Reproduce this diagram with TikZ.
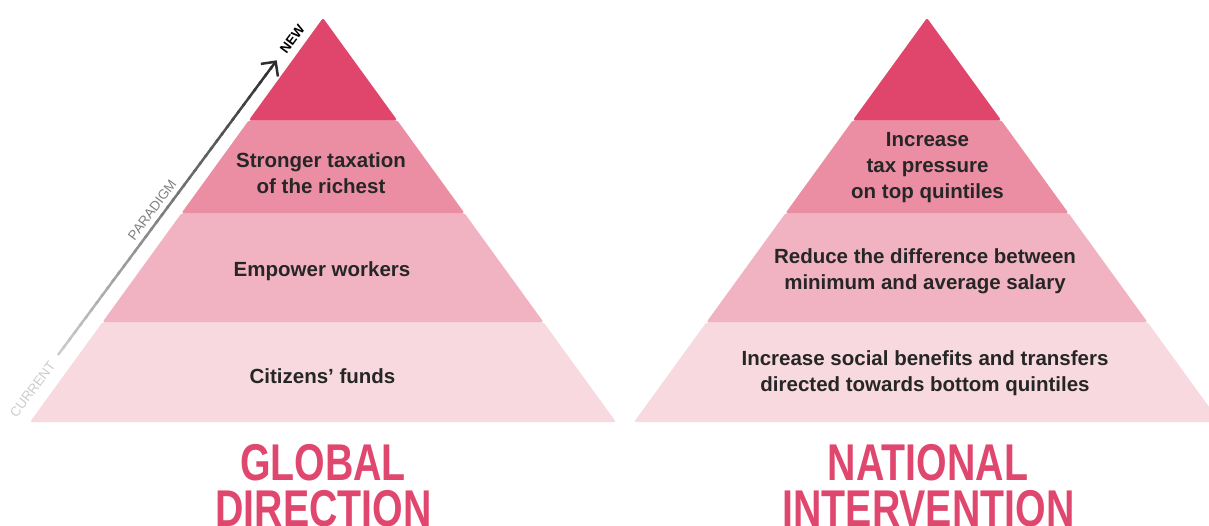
\documentclass[tikz,border=0pt]{standalone}
\usepackage{fontspec}
\setmainfont{Liberation Sans}
\usetikzlibrary{calc}
\definecolor{cTop}{HTML}{E0466C}
\definecolor{cTwo}{HTML}{EB8EA3}
\definecolor{cThree}{HTML}{F1B3C2}
\definecolor{cBot}{HTML}{F7D9DF}
\definecolor{cTitle}{HTML}{E0476E}
\definecolor{cText}{HTML}{262626}
\definecolor{arrLight}{HTML}{CCCCCC}
\definecolor{arrMid}{HTML}{808080}
\definecolor{arrDark}{HTML}{2E2E2E}
\begin{document}
\begin{tikzpicture}[x=1pt,y=-1pt,
  band/.style={rounded corners=2pt},
  lbl/.style={font=\fontsize{20.5}{26}\selectfont\bfseries, text=cText, inner sep=0pt, anchor=base},
  ttl/.style={font=\fontsize{51.7}{46}\selectfont\bfseries, text=cTitle, inner sep=0pt, anchor=base},
  small/.style={font=\fontsize{13.5}{15}\selectfont, inner sep=1pt}]
\useasboundingbox (0,0) rectangle (1209,525);
% pyramids
\foreach \ax in {323,927} {
  \fill[cBot, band] (\ax-220.4,322) -- (\ax+220.4,322) -- (\ax+293,422) -- (\ax-293,422) -- cycle;
  \fill[cThree, band] (\ax-141.4,213) -- (\ax+141.4,213) -- (\ax+220.4,322) -- (\ax-220.4,322) -- cycle;
  \fill[cTwo, band] (\ax-74,120) -- (\ax+74,120) -- (\ax+141.4,213) -- (\ax-141.4,213) -- cycle;
  \fill[cTop, band] (\ax,18) -- (\ax+74,120) -- (\ax-74,120) -- cycle;
}
% left labels
\node[lbl] (l1) at (321,167) {\begin{tabular}[t]{@{}c@{}}Stronger taxation\\of the richest\end{tabular}};
\node[lbl] (l2) at (322,276) {Empower workers};
\node[lbl] (l3) at (322.5,383) {Citizens’ funds};
% right labels
\node[lbl] (r1) at (927.5,146) {\begin{tabular}[t]{@{}c@{}}Increase\\tax pressure\\on top quintiles\end{tabular}};
\node[lbl] (r2) at (925,263) {\begin{tabular}[t]{@{}c@{}}Reduce the difference between\\minimum and average salary\end{tabular}};
\node[lbl] (r3) at (925,365) {\begin{tabular}[t]{@{}c@{}}Increase social benefits and transfers\\directed towards bottom quintiles\end{tabular}};
% titles
\node[ttl] (t1) at (323,480) {\scalebox{0.76}[1]{GLOBAL}};
\node[ttl] (t2) at (323.5,526) {\scalebox{0.76}[1]{DIRECTION}};
\node[ttl] (t3) at (928,480) {\scalebox{0.76}[1]{NATIONAL}};
\node[ttl] (t4) at (928.5,526) {\scalebox{0.76}[1]{INTERVENTION}};
% paradigm arrow
\coordinate (cur) at (58,355);
\coordinate (new) at (275.7,61.7);
\foreach \i in {0,...,39} {
  \pgfmathsetmacro\pa{\i/40}
  \pgfmathsetmacro\pb{min(\i+1.3,40)/40}
  \pgfmathsetmacro\pc{100*\i/39}
  \draw[line width=2.5pt, arrDark!\pc!arrLight] ($(cur)!\pa!(new)$) -- ($(cur)!\pb!(new)$);
}
\draw[arrDark, line width=2.5pt, line join=miter] ($(new)!15pt!45:(cur)$) -- (new) -- ($(new)!15pt!-45:(cur)$);
\path (cur) -- (new)
  node[small, sloped, pos=-0.117, text=arrLight] (tcur) {CURRENT}
  node[small, sloped, pos=0.473, above=5pt, text=arrMid] (tpar) {PARADIGM}
  node[small, sloped, pos=1.076, font=\fontsize{13.5}{15}\selectfont\bfseries, text=black] (tnew) {NEW};
\end{tikzpicture}
\end{document}
